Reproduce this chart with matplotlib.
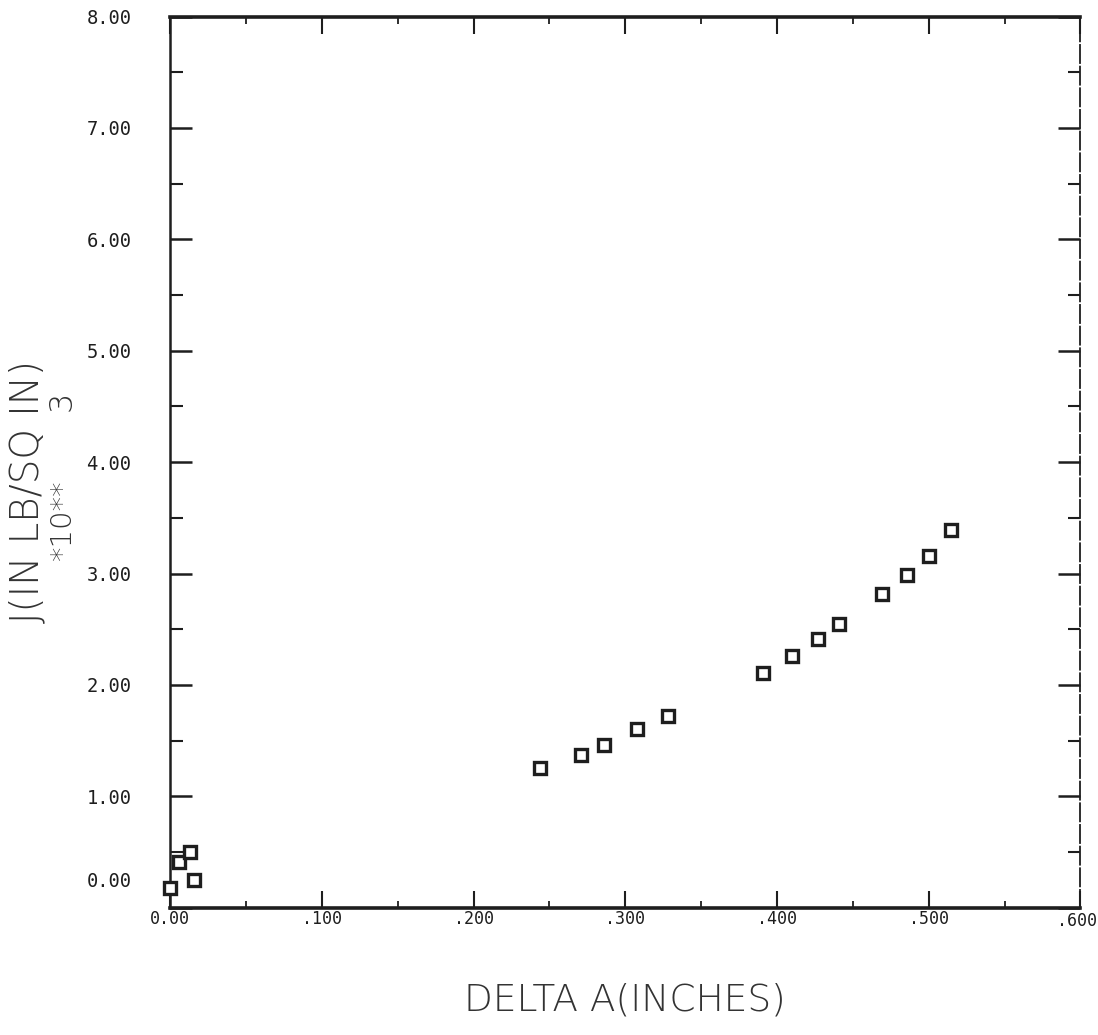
import numpy as np
import matplotlib
matplotlib.use("Agg")
import matplotlib.pyplot as plt
from matplotlib.ticker import MultipleLocator, FixedLocator
import matplotlib.transforms as mtransforms

INK = "#1e1e1e"
TXT = "#333333"

# crack extension vs J-integral
delta_a = [0.000, 0.006, 0.013, 0.016, 0.244, 0.271, 0.286, 0.308, 0.328,
           0.391, 0.410, 0.427, 0.441, 0.469, 0.486, 0.500, 0.515]
j_val = [0.18, 0.41, 0.50, 0.25, 1.25, 1.37, 1.46, 1.60, 1.72,
         2.11, 2.26, 2.41, 2.55, 2.82, 2.99, 3.16, 3.39]

x_ticks = [0.0, 0.1, 0.2, 0.3, 0.4, 0.5, 0.6]
x_labels = ["0.00", ".100", ".200", ".300", ".400", ".500", ".600"]
y_ticks = [0, 1, 2, 3, 4, 5, 6, 7, 8]
y_labels = ["0.00", "1.00", "2.00", "3.00", "4.00", "5.00", "6.00", "7.00", "8.00"]

fig = plt.figure(figsize=(10.98, 10.35), dpi=100, facecolor="white")
ax = fig.add_axes([0.155, 0.123, 0.829, 0.861])

ax.plot(delta_a, j_val, ls="none", marker="s", ms=9, mfc="white",
        mec=INK, mew=2.4, clip_on=False, zorder=5)

ax.set_xlim(0, 0.6)
ax.set_ylim(0, 8)

ax.xaxis.set_major_locator(FixedLocator(x_ticks))
ax.xaxis.set_minor_locator(MultipleLocator(0.05))
ax.yaxis.set_major_locator(FixedLocator(y_ticks))
ax.yaxis.set_minor_locator(MultipleLocator(0.5))
ax.set_xticklabels(x_labels)
ax.set_yticklabels(y_labels)

for t in ax.get_xticklabels():
    t.set_fontfamily("DejaVu Sans Mono")
    t.set_fontsize(12)
    t.set_color(TXT)
for t in ax.get_yticklabels():
    t.set_fontfamily("DejaVu Sans Mono")
    t.set_fontsize(13.5)
    t.set_color(TXT)

ax.tick_params(axis="both", which="both", direction="in", colors=INK,
               top=True, right=True, labeltop=False, labelright=False)
ax.tick_params(axis="x", which="major", length=12, width=1.5, pad=1.5)
ax.tick_params(axis="x", which="minor", length=5, width=1.3)
ax.tick_params(axis="y", which="major", length=16, width=1.8, pad=28)
ax.tick_params(axis="y", which="minor", length=9, width=1.5)

# the 0.00 label on the y axis sits a little above its tick
lab0 = ax.get_yticklabels()[0]
lab0.set_transform(lab0.get_transform() +
                   mtransforms.ScaledTranslation(0, 0.28, fig.dpi_scale_trans))
# .600 hugs the right edge of the sheet
lab6 = ax.get_xticklabels()[-1]
lab6.set_transform(lab6.get_transform() +
                   mtransforms.ScaledTranslation(-0.03, -0.02, fig.dpi_scale_trans))

ax.spines["top"].set_linewidth(2.6)
ax.spines["bottom"].set_linewidth(2.6)
ax.spines["left"].set_linewidth(1.8)
ax.spines["right"].set_linewidth(1.3)
ax.spines["right"].set_linestyle((0, (10, 2)))
for s in ax.spines.values():
    s.set_color(INK)

ax.set_xlabel("DELTA A(INCHES)", fontsize=27, color=TXT, labelpad=38,
              family="DejaVu Sans", fontweight="light")

fig.text(0.025, 0.525, "J(IN LB/SQ IN)", rotation=90, ha="center", va="center",
         fontsize=28, color=TXT, family="DejaVu Sans", fontweight="light")
fig.text(0.057, 0.498, "*10**", rotation=90, ha="center", va="center",
         fontsize=21, color=TXT, family="DejaVu Sans", fontweight="light")
fig.text(0.056, 0.613, "3", rotation=90, ha="center", va="center",
         fontsize=23, color=TXT, family="DejaVu Sans", fontweight="light")

fig.savefig("out.png", dpi=100, facecolor="white")
